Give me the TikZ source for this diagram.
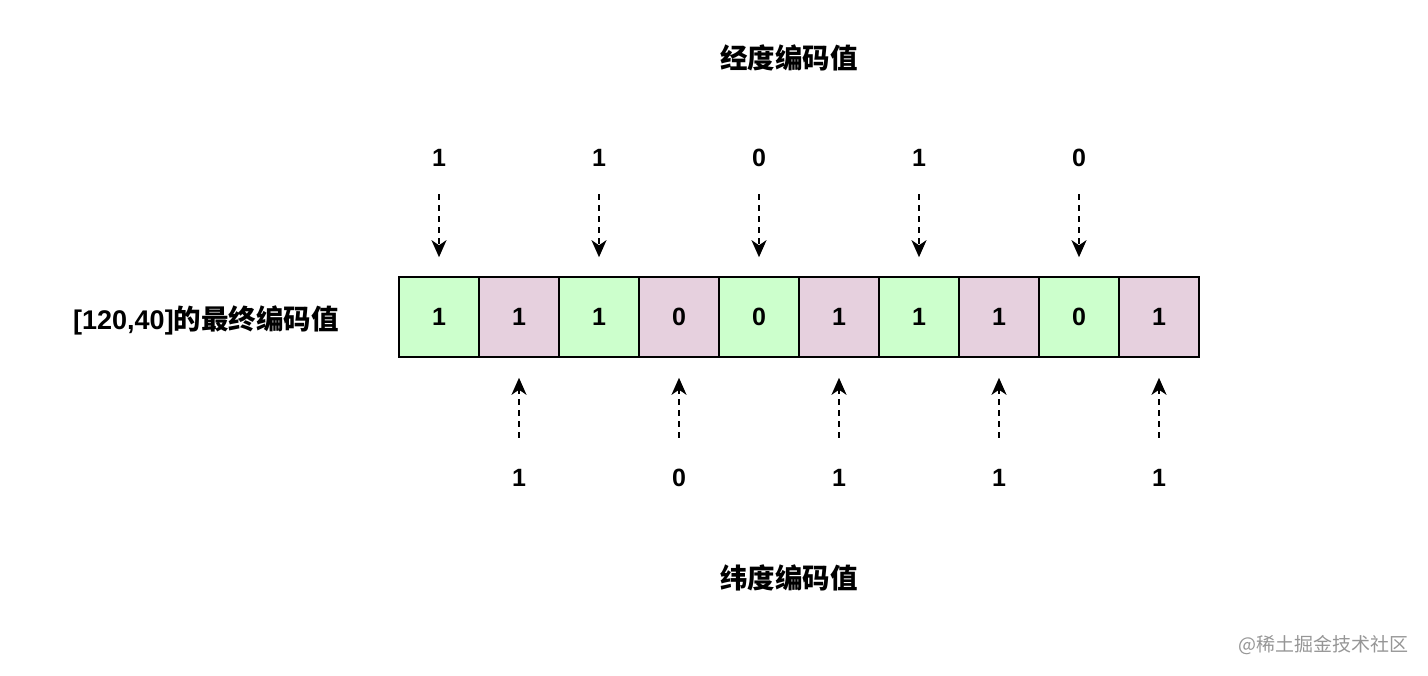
\documentclass[tikz,border=0pt]{standalone}
\usepackage{fontspec}
\setmainfont{Liberation Sans}
\newfontfamily\cjk{Noto Sans CJK SC}
\usetikzlibrary{arrows.meta}
\definecolor{mygreen}{RGB}{204, 255, 204}
\definecolor{mypink}{RGB}{230, 208, 222}
\definecolor{mygray1}{RGB}{150, 150, 150}

\begin{document}
\begin{tikzpicture}[
    x = 1pt, y = -1pt,
    cell/.style = {draw, line width = 1.6pt, minimum size = 80pt, inner sep = 0pt, font = \fontsize{25}{25}\selectfont\bfseries},
    lon/.style = {cell, fill = mygreen},
    lat/.style = {cell, fill = mypink},
    bit/.style = {font = \fontsize{25}{25}\selectfont\bfseries},
    title/.style = {font = \cjk\bfseries\fontsize{27.5}{27.5}\selectfont},
    d1/.style = {line width = 1.6pt, dash pattern = on 6pt off 5pt, -{Stealth[length = 17pt, width = 15pt, inset = 5pt]}},
]

\useasboundingbox (0,0) rectangle (1428,676);

% final code
\foreach \v/\s [count = \i from 0] in {1/lon, 1/lat, 1/lon, 0/lat, 0/lon, 1/lat, 1/lon, 1/lat, 0/lon, 1/lat}
    \node[\s] (c\i) at (439 + 80*\i, 317) {\v};

% longitude bits, from above
\foreach \v [count = \i from 0] in {1, 1, 0, 1, 0} {
    \pgfmathtruncatemacro{\k}{2*\i}
    \node[bit] (t\k) at (439 + 160*\i, 158) {\v};
    \draw[d1, shorten <= 24pt, shorten >= 19pt] (t\k) -- (c\k);
}

% latitude bits, from below
\foreach \v [count = \i from 0] in {1, 0, 1, 1, 1} {
    \pgfmathtruncatemacro{\k}{2*\i + 1}
    \node[bit] (b\k) at (519 + 160*\i, 478) {\v};
    \draw[d1, shorten <= 28pt, shorten >= 20pt] (b\k) -- (c\k);
}

\node[title] (lontitle) at (789, 58) {经度编码值};
\node[title] (lattitle) at (789, 578) {纬度编码值};
\node[title, anchor = west, inner sep = 0pt] (final) at (73, 320) {{\rmfamily\bfseries\fontsize{27}{27}\selectfont [120,40]}的最终编码值};

\node[anchor = east, mygray1, font = \cjk\fontsize{19}{19}\selectfont] (mark) at (1412, 645) {@稀土掘金技术社区};

\end{tikzpicture}
\end{document}
